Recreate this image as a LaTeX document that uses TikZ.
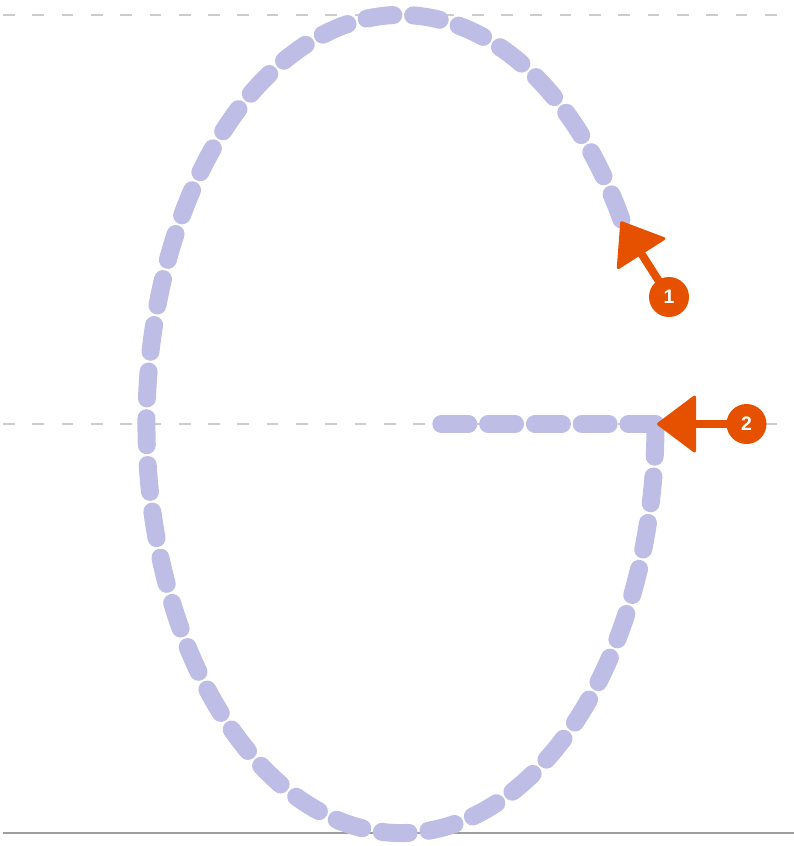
\documentclass[tikz,border=0pt]{standalone}
\usepackage{fontspec}
\setmainfont{Liberation Sans}
\usetikzlibrary{calc}
\definecolor{strokecol}{HTML}{BDBDE5}
\definecolor{markcol}{HTML}{E65100}
\definecolor{guidecol}{HTML}{CCCCCC}
\definecolor{basecol}{HTML}{9E9E9E}
\tikzset{
  guide/.style={draw=guidecol, line width=1.8pt, dash pattern=on 11.7pt off 17.6pt},
  baseline/.style={draw=basecol, line width=2.5pt},
  glyph/.style={draw=strokecol, line width=18pt, line cap=round, line join=round, dash pattern=on 27pt off 19.8pt},
  shaft/.style={draw=markcol, line width=8pt},
  tiphead/.style={draw=markcol, fill=markcol, line width=3pt, line join=round},
  badge/.style={circle, fill=markcol, minimum size=40pt, inner sep=0pt, text=white, font=\fontsize{19.5}{19.5}\selectfont\bfseries}
}
\begin{document}
\begin{tikzpicture}[x=1pt,y=-1pt]
\useasboundingbox (0,0) rectangle (794,846);
% guide lines
\coordinate (t0) at (3,15); \coordinate (t1) at (785,15);
\coordinate (m0) at (3,424); \coordinate (m1) at (785,424);
\coordinate (b0) at (3,833); \coordinate (b1) at (794,833);
\draw[guide] (t0) -- (t1);
\draw[guide] (m0) -- (m1);
\draw[baseline] (b0) -- (b1);
% glyph strokes
\coordinate (gstart) at ({401+254.5*cos(30)},{424-409*sin(30)});
\coordinate (gcorner) at (655.5,424);
\coordinate (gbar) at (441,424);
\draw[glyph] (gstart) arc[start angle=30, end angle=360, x radius=254.5pt, y radius=409pt];
\draw[glyph] (gcorner) -- (gbar);
% marker 1
\node[badge] (n1) at (669,297) {1};
\begin{scope}[shift={(669,297)}, rotate=-57.5]
  \coordinate (s1a) at (-18,0);
  \coordinate (s1b) at (-54,0);
  \draw[shaft] (s1a) -- (s1b);
  \filldraw[tiphead] (-88,0) -- (-52,27) -- (-52,-27) -- cycle;
\end{scope}
% marker 2
\node[badge] (n2) at (746.5,424) {2};
\begin{scope}[shift={(746.5,424)}]
  \coordinate (s2a) at (-18,0);
  \coordinate (s2b) at (-54,0);
  \draw[shaft] (s2a) -- (s2b);
  \filldraw[tiphead] (-88,0) -- (-52,27) -- (-52,-27) -- cycle;
\end{scope}
\end{tikzpicture}
\end{document}
